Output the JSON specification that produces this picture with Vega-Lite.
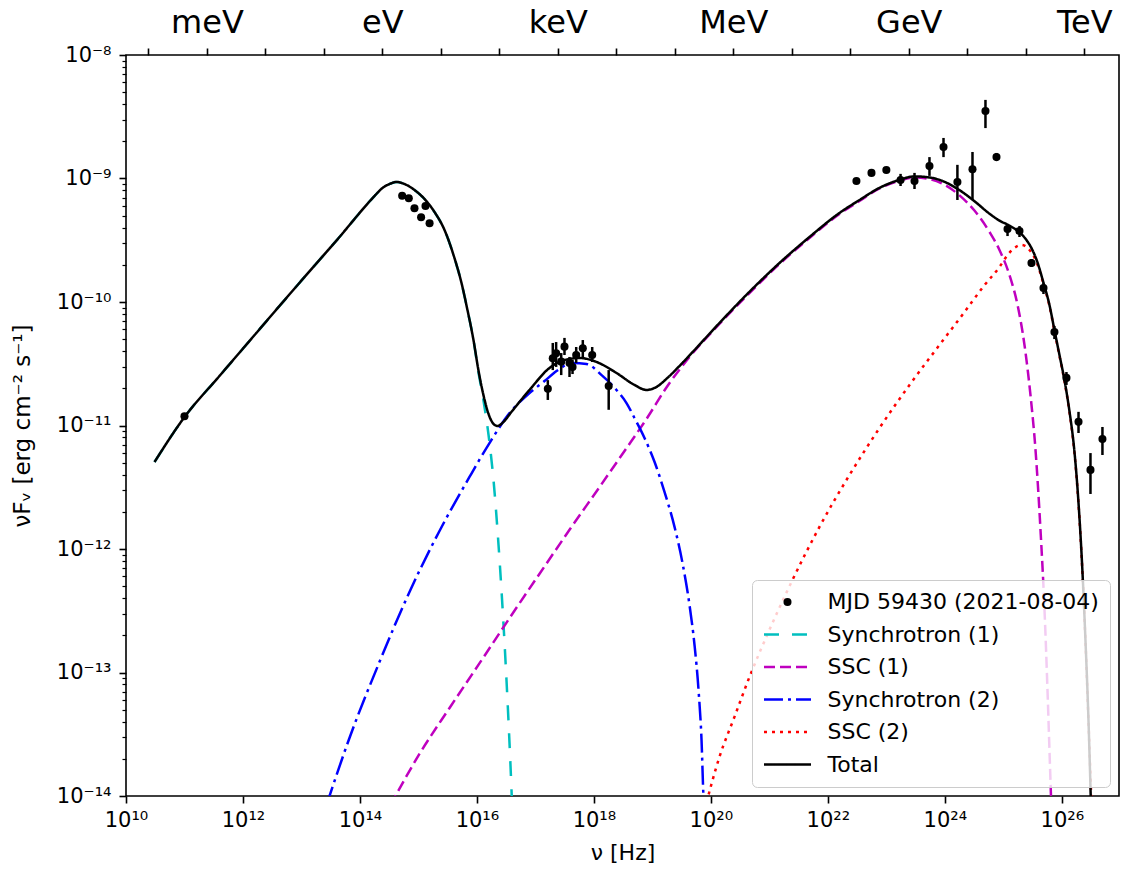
{
  "$schema": "https://vega.github.io/schema/vega-lite/v6.json",
  "width": 993,
  "height": 741,
  "autosize": {"type": "none"},
  "padding": {"left": 126, "top": 55, "right": 11, "bottom": 73},
  "background": "white",
  "config": {
    "view": {"stroke": "black", "strokeWidth": 1.6},
    "font": "DejaVu Sans",
    "axis": {"domain": false, "grid": false, "tickColor": "black", "labelColor": "black", "titleColor": "black", "labelFont": "DejaVu Sans", "titleFont": "DejaVu Sans", "labelFontSize": 21, "titleFontSize": 22, "titleFontWeight": "normal", "tickWidth": 1.6, "labelOverlap": false, "labelFlush": false, "labelBound": false}
  },
  "datasets": {
    "curves": [
      {"s":"Synchrotron (1)","nu":3.07e10,"F":5.06e-12},{"s":"Synchrotron (1)","nu":1.00e11,"F":1.17e-11},{"s":"Synchrotron (1)","nu":3.97e11,"F":2.52e-11},{"s":"Synchrotron (1)","nu":1.29e12,"F":4.83e-11},{"s":"Synchrotron (1)","nu":4.21e12,"F":9.29e-11},{"s":"Synchrotron (1)","nu":9.25e12,"F":1.43e-10},{"s":"Synchrotron (1)","nu":2.03e13,"F":2.19e-10},{"s":"Synchrotron (1)","nu":4.47e13,"F":3.36e-10},{"s":"Synchrotron (1)","nu":8.07e13,"F":4.70e-10},{"s":"Synchrotron (1)","nu":1.20e14,"F":5.87e-10},{"s":"Synchrotron (1)","nu":1.77e14,"F":7.21e-10},{"s":"Synchrotron (1)","nu":2.43e14,"F":8.38e-10},{"s":"Synchrotron (1)","nu":3.20e14,"F":9.02e-10},{"s":"Synchrotron (1)","nu":4.22e14,"F":9.37e-10},{"s":"Synchrotron (1)","nu":5.78e14,"F":9.02e-10},{"s":"Synchrotron (1)","nu":8.57e14,"F":8.07e-10},{"s":"Synchrotron (1)","nu":1.27e15,"F":6.82e-10},{"s":"Synchrotron (1)","nu":1.88e15,"F":5.36e-10},{"s":"Synchrotron (1)","nu":2.79e15,"F":3.83e-10},{"s":"Synchrotron (1)","nu":4.13e15,"F":2.27e-10},{"s":"Synchrotron (1)","nu":5.44e15,"F":1.43e-10},{"s":"Synchrotron (1)","nu":6.89e15,"F":8.61e-11},{"s":"Synchrotron (1)","nu":8.73e15,"F":4.92e-11},{"s":"Synchrotron (1)","nu":1.06e16,"F":2.71e-11},{"s":"Synchrotron (1)","nu":1.29e16,"F":1.61e-11},{"s":"Synchrotron (1)","nu":1.58e16,"F":8.38e-12},{"s":"Synchrotron (1)","nu":1.92e16,"F":3.62e-12},{"s":"Synchrotron (1)","nu":2.34e16,"F":1.08e-12},{"s":"Synchrotron (1)","nu":2.85e16,"F":2.43e-13},{"s":"Synchrotron (1)","nu":3.33e16,"F":5.98e-14},{"s":"Synchrotron (1)","nu":3.90e16,"F":1.12e-14},{"s":"Synchrotron (1)","nu":4.05e16,"F":7.0e-15},
      {"s":"SSC (1)","nu":3.33e14,"F":8.45e-15},{"s":"SSC (1)","nu":1.04e15,"F":2.19e-14},{"s":"SSC (1)","nu":3.40e15,"F":5.16e-14},{"s":"SSC (1)","nu":1.11e16,"F":1.19e-13},{"s":"SSC (1)","nu":3.61e16,"F":2.76e-13},{"s":"SSC (1)","nu":1.17e17,"F":6.28e-13},{"s":"SSC (1)","nu":3.83e17,"F":1.43e-12},{"s":"SSC (1)","nu":1.25e18,"F":3.18e-12},{"s":"SSC (1)","nu":3.34e18,"F":6.22e-12},{"s":"SSC (1)","nu":7.93e18,"F":1.13e-11},{"s":"SSC (1)","nu":1.81e19,"F":2.09e-11},{"s":"SSC (1)","nu":4.31e19,"F":3.59e-11},{"s":"SSC (1)","nu":1.40e20,"F":6.64e-11},{"s":"SSC (1)","nu":4.57e20,"F":1.18e-10},{"s":"SSC (1)","nu":1.49e21,"F":2.03e-10},{"s":"SSC (1)","nu":4.85e21,"F":3.30e-10},{"s":"SSC (1)","nu":1.58e22,"F":5.16e-10},{"s":"SSC (1)","nu":3.48e22,"F":6.58e-10},{"s":"SSC (1)","nu":7.64e22,"F":8.3e-10},{"s":"SSC (1)","nu":1.68e23,"F":9.6e-10},{"s":"SSC (1)","nu":3.03e23,"F":1.02e-9},{"s":"SSC (1)","nu":5.46e23,"F":9.9e-10},{"s":"SSC (1)","nu":9.86e23,"F":8.9e-10},{"s":"SSC (1)","nu":1.78e24,"F":7.3e-10},{"s":"SSC (1)","nu":3.21e24,"F":5.5e-10},{"s":"SSC (1)","nu":5.80e24,"F":3.69e-10},{"s":"SSC (1)","nu":8.59e24,"F":2.64e-10},{"s":"SSC (1)","nu":1.27e25,"F":1.66e-10},{"s":"SSC (1)","nu":1.75e25,"F":9.46e-11},{"s":"SSC (1)","nu":2.30e25,"F":4.49e-11},{"s":"SSC (1)","nu":2.91e25,"F":1.77e-11},{"s":"SSC (1)","nu":3.55e25,"F":6.34e-12},{"s":"SSC (1)","nu":4.32e25,"F":1.43e-12},{"s":"SSC (1)","nu":5.06e25,"F":3.21e-13},{"s":"SSC (1)","nu":5.69e25,"F":7.21e-14},{"s":"SSC (1)","nu":6.15e25,"F":2.36e-14},{"s":"SSC (1)","nu":6.65e25,"F":7.7e-15},
      {"s":"Synchrotron (2)","nu":2.68e13,"F":8.45e-15},{"s":"Synchrotron (2)","nu":6.62e13,"F":2.95e-14},{"s":"Synchrotron (2)","nu":2.16e14,"F":1.22e-13},{"s":"Synchrotron (2)","nu":7.03e14,"F":4.49e-13},{"s":"Synchrotron (2)","nu":2.29e15,"F":1.40e-12},{"s":"Synchrotron (2)","nu":7.46e15,"F":3.83e-12},{"s":"Synchrotron (2)","nu":1.64e16,"F":7.21e-12},{"s":"Synchrotron (2)","nu":3.61e16,"F":1.26e-11},{"s":"Synchrotron (2)","nu":7.92e16,"F":1.83e-11},{"s":"Synchrotron (2)","nu":1.43e17,"F":2.29e-11},{"s":"Synchrotron (2)","nu":2.30e17,"F":2.76e-11},{"s":"Synchrotron (2)","nu":4.31e17,"F":3.21e-11},{"s":"Synchrotron (2)","nu":7.47e17,"F":3.15e-11},{"s":"Synchrotron (2)","nu":1.40e18,"F":2.52e-11},{"s":"Synchrotron (2)","nu":2.43e18,"F":1.94e-11},{"s":"Synchrotron (2)","nu":3.61e18,"F":1.52e-11},{"s":"Synchrotron (2)","nu":4.94e18,"F":1.15e-11},{"s":"Synchrotron (2)","nu":7.33e18,"F":7.93e-12},{"s":"Synchrotron (2)","nu":1.09e19,"F":5.06e-12},{"s":"Synchrotron (2)","nu":1.61e19,"F":2.90e-12},{"s":"Synchrotron (2)","nu":2.39e19,"F":1.51e-12},{"s":"Synchrotron (2)","nu":3.27e19,"F":7.71e-13},{"s":"Synchrotron (2)","nu":4.31e19,"F":3.52e-13},{"s":"Synchrotron (2)","nu":5.25e19,"F":1.67e-13},{"s":"Synchrotron (2)","nu":6.15e19,"F":7.21e-14},{"s":"Synchrotron (2)","nu":6.92e19,"F":2.84e-14},{"s":"Synchrotron (2)","nu":7.48e19,"F":9.8e-15},{"s":"Synchrotron (2)","nu":7.78e19,"F":7.7e-15},
      {"s":"SSC (2)","nu":7.78e19,"F":7.7e-15},{"s":"SSC (2)","nu":1.40e20,"F":2.07e-14},{"s":"SSC (2)","nu":2.53e20,"F":4.37e-14},{"s":"SSC (2)","nu":4.57e20,"F":9.20e-14},{"s":"SSC (2)","nu":1.00e21,"F":2.21e-13},{"s":"SSC (2)","nu":2.48e21,"F":5.61e-13},{"s":"SSC (2)","nu":7.19e21,"F":1.51e-12},{"s":"SSC (2)","nu":2.34e22,"F":3.97e-12},{"s":"SSC (2)","nu":7.64e22,"F":9.55e-12},{"s":"SSC (2)","nu":2.49e23,"F":2.13e-11},{"s":"SSC (2)","nu":8.11e23,"F":4.49e-11},{"s":"SSC (2)","nu":2.17e24,"F":8.30e-11},{"s":"SSC (2)","nu":4.77e24,"F":1.37e-10},{"s":"SSC (2)","nu":8.59e24,"F":1.92e-10},{"s":"SSC (2)","nu":1.18e25,"F":2.40e-10},{"s":"SSC (2)","nu":1.55e25,"F":2.74e-10},{"s":"SSC (2)","nu":2.05e25,"F":2.90e-10},{"s":"SSC (2)","nu":2.80e25,"F":2.64e-10},{"s":"SSC (2)","nu":3.69e25,"F":2.11e-10},{"s":"SSC (2)","nu":4.86e25,"F":1.40e-10},{"s":"SSC (2)","nu":6.15e25,"F":9.29e-11},{"s":"SSC (2)","nu":7.48e25,"F":5.82e-11},{"s":"SSC (2)","nu":9.12e25,"F":3.66e-11},{"s":"SSC (2)","nu":1.11e26,"F":2.29e-11},{"s":"SSC (2)","nu":1.35e26,"F":1.29e-11},{"s":"SSC (2)","nu":1.64e26,"F":6.10e-12},{"s":"SSC (2)","nu":1.92e26,"F":2.40e-12},{"s":"SSC (2)","nu":2.25e26,"F":6.52e-13},{"s":"SSC (2)","nu":2.54e26,"F":1.77e-13},{"s":"SSC (2)","nu":2.86e26,"F":3.97e-14},{"s":"SSC (2)","nu":3.22e26,"F":8.45e-15},
      {"s":"Total","nu":3.07e10,"F":5.06e-12},{"s":"Total","nu":1.00e11,"F":1.17e-11},{"s":"Total","nu":3.97e11,"F":2.52e-11},{"s":"Total","nu":1.29e12,"F":4.83e-11},{"s":"Total","nu":4.21e12,"F":9.29e-11},{"s":"Total","nu":9.25e12,"F":1.43e-10},{"s":"Total","nu":2.03e13,"F":2.19e-10},{"s":"Total","nu":4.47e13,"F":3.36e-10},{"s":"Total","nu":8.07e13,"F":4.70e-10},{"s":"Total","nu":1.20e14,"F":5.87e-10},{"s":"Total","nu":1.77e14,"F":7.21e-10},{"s":"Total","nu":2.43e14,"F":8.38e-10},{"s":"Total","nu":3.20e14,"F":9.02e-10},{"s":"Total","nu":4.22e14,"F":9.37e-10},{"s":"Total","nu":5.78e14,"F":9.02e-10},{"s":"Total","nu":8.57e14,"F":8.07e-10},{"s":"Total","nu":1.27e15,"F":6.82e-10},{"s":"Total","nu":1.88e15,"F":5.36e-10},{"s":"Total","nu":2.79e15,"F":3.83e-10},{"s":"Total","nu":4.13e15,"F":2.27e-10},{"s":"Total","nu":5.44e15,"F":1.43e-10},{"s":"Total","nu":6.89e15,"F":8.61e-11},{"s":"Total","nu":8.73e15,"F":4.92e-11},{"s":"Total","nu":1.06e16,"F":2.81e-11},{"s":"Total","nu":1.29e16,"F":1.77e-11},{"s":"Total","nu":1.58e16,"F":1.24e-11},{"s":"Total","nu":1.92e16,"F":1.03e-11},{"s":"Total","nu":2.25e16,"F":9.91e-12},{"s":"Total","nu":2.85e16,"F":1.07e-11},{"s":"Total","nu":3.90e16,"F":1.29e-11},{"s":"Total","nu":7.92e16,"F":1.94e-11},{"s":"Total","nu":1.74e17,"F":2.92e-11},{"s":"Total","nu":3.14e17,"F":3.39e-11},{"s":"Total","nu":5.68e17,"F":3.52e-11},{"s":"Total","nu":1.11e18,"F":3.27e-11},{"s":"Total","nu":2.44e18,"F":2.66e-11},{"s":"Total","nu":4.94e18,"F":2.13e-11},{"s":"Total","nu":7.93e18,"F":1.94e-11},{"s":"Total","nu":1.17e19,"F":2.05e-11},{"s":"Total","nu":1.81e19,"F":2.43e-11},{"s":"Total","nu":2.90e19,"F":3.03e-11},{"s":"Total","nu":5.24e19,"F":4.08e-11},{"s":"Total","nu":1.40e20,"F":6.76e-11},{"s":"Total","nu":4.57e20,"F":1.21e-10},{"s":"Total","nu":1.49e21,"F":2.07e-10},{"s":"Total","nu":4.85e21,"F":3.36e-10},{"s":"Total","nu":1.58e22,"F":5.26e-10},{"s":"Total","nu":3.48e22,"F":6.70e-10},{"s":"Total","nu":7.64e22,"F":8.4e-10},{"s":"Total","nu":1.68e23,"F":9.75e-10},{"s":"Total","nu":3.03e23,"F":1.04e-9},{"s":"Total","nu":5.46e23,"F":1.02e-9},{"s":"Total","nu":9.86e23,"F":9.4e-10},{"s":"Total","nu":1.78e24,"F":8.05e-10},{"s":"Total","nu":3.21e24,"F":6.55e-10},{"s":"Total","nu":5.80e24,"F":5.19e-10},{"s":"Total","nu":8.59e24,"F":4.56e-10},{"s":"Total","nu":1.27e25,"F":4.16e-10},{"s":"Total","nu":1.75e25,"F":3.77e-10},{"s":"Total","nu":2.30e25,"F":3.33e-10},{"s":"Total","nu":3.03e25,"F":2.73e-10},{"s":"Total","nu":3.84e25,"F":2.09e-10},{"s":"Total","nu":4.86e25,"F":1.43e-10},{"s":"Total","nu":6.15e25,"F":9.46e-11},{"s":"Total","nu":7.48e25,"F":5.93e-11},{"s":"Total","nu":9.12e25,"F":3.72e-11},{"s":"Total","nu":1.11e26,"F":2.33e-11},{"s":"Total","nu":1.35e26,"F":1.31e-11},{"s":"Total","nu":1.64e26,"F":6.22e-12},{"s":"Total","nu":1.92e26,"F":2.45e-12},{"s":"Total","nu":2.25e26,"F":6.64e-13},{"s":"Total","nu":2.54e26,"F":1.80e-13},{"s":"Total","nu":2.86e26,"F":4.05e-14},{"s":"Total","nu":3.15e26,"F":8.5e-15}
    ],
    "pts": [
      {"nu":1.00e11,"F":1.19e-11,"lo":1.19e-11,"hi":1.19e-11},
      {"nu":5.27e14,"F":7.26e-10,"lo":7.26e-10,"hi":7.26e-10},
      {"nu":6.84e14,"F":6.92e-10,"lo":6.92e-10,"hi":6.92e-10},
      {"nu":8.55e14,"F":5.74e-10,"lo":5.74e-10,"hi":5.74e-10},
      {"nu":1.32e15,"F":5.98e-10,"lo":5.98e-10,"hi":5.98e-10},
      {"nu":1.11e15,"F":4.85e-10,"lo":4.85e-10,"hi":4.85e-10},
      {"nu":1.55e15,"F":4.34e-10,"lo":4.34e-10,"hi":4.34e-10},
      {"nu":1.63e17,"F":1.98e-11,"lo":1.61e-11,"hi":2.33e-11},
      {"nu":1.98e17,"F":3.50e-11,"lo":2.81e-11,"hi":4.66e-11},
      {"nu":2.26e17,"F":3.84e-11,"lo":2.98e-11,"hi":4.74e-11},
      {"nu":3.14e17,"F":4.35e-11,"lo":3.72e-11,"hi":5.12e-11},
      {"nu":2.76e17,"F":3.29e-11,"lo":2.56e-11,"hi":3.86e-11},
      {"nu":3.83e17,"F":3.21e-11,"lo":2.47e-11,"hi":3.59e-11},
      {"nu":4.31e17,"F":2.98e-11,"lo":2.61e-11,"hi":3.39e-11},
      {"nu":4.98e17,"F":3.72e-11,"lo":3.21e-11,"hi":4.32e-11},
      {"nu":6.46e17,"F":4.22e-11,"lo":3.52e-11,"hi":4.92e-11},
      {"nu":9.35e17,"F":3.72e-11,"lo":3.27e-11,"hi":4.32e-11},
      {"nu":1.79e18,"F":2.09e-11,"lo":1.34e-11,"hi":2.81e-11},
      {"nu":3.08e22,"F":9.55e-10,"lo":9.1e-10,"hi":1.0e-9},
      {"nu":5.57e22,"F":1.11e-9,"lo":1.05e-9,"hi":1.17e-9},
      {"nu":1.00e23,"F":1.17e-9,"lo":1.12e-9,"hi":1.22e-9},
      {"nu":1.75e23,"F":9.73e-10,"lo":8.69e-10,"hi":1.09e-9},
      {"nu":3.03e23,"F":9.55e-10,"lo":8.22e-10,"hi":1.11e-9},
      {"nu":5.46e23,"F":1.26e-9,"lo":1.05e-9,"hi":1.49e-9},
      {"nu":9.49e23,"F":1.80e-9,"lo":1.49e-9,"hi":2.13e-9},
      {"nu":1.64e24,"F":9.37e-10,"lo":6.70e-10,"hi":1.29e-9},
      {"nu":2.97e24,"F":1.19e-9,"lo":6.70e-10,"hi":1.64e-9},
      {"nu":4.95e24,"F":3.52e-9,"lo":2.56e-9,"hi":4.33e-9},
      {"nu":7.64e24,"F":1.49e-9,"lo":1.39e-9,"hi":1.61e-9},
      {"nu":1.18e25,"F":3.90e-10,"lo":3.42e-10,"hi":4.28e-10},
      {"nu":1.89e25,"F":3.76e-10,"lo":3.36e-10,"hi":4.12e-10},
      {"nu":3.03e25,"F":2.07e-10,"lo":1.92e-10,"hi":2.23e-10},
      {"nu":4.86e25,"F":1.30e-10,"lo":1.16e-10,"hi":1.43e-10},
      {"nu":7.48e25,"F":5.71e-11,"lo":5.01e-11,"hi":6.40e-11},
      {"nu":1.20e26,"F":2.43e-11,"lo":2.13e-11,"hi":2.71e-11},
      {"nu":1.93e26,"F":1.07e-11,"lo":8.69e-12,"hi":1.29e-11},
      {"nu":3.09e26,"F":4.37e-12,"lo":2.79e-12,"hi":5.98e-12},
      {"nu":4.95e26,"F":7.78e-12,"lo":5.77e-12,"hi":9.73e-12}
    ]
  },
  "resolve": {"axis": {"x": "independent"}},
  "layer": [
    {
      "data": {"name": "curves"},
      "mark": {"type": "line", "clip": true, "strokeWidth": 2.5, "interpolate": "monotone"},
      "encoding": {
        "x": {"field": "nu", "type": "quantitative", "scale": {"type": "log", "domain": [1e10, 9.5e26], "nice": false},
          "axis": {"orient": "bottom", "values": [1e10, 1e12, 1e14, 1e16, 1e18, 1e20, 1e22, 1e24, 1e26],
            "labelExpr": "'10' + ['¹⁰','¹²','¹⁴','¹⁶','¹⁸','²⁰','²²','²⁴','²⁶'][(round(log(datum.value)/LN10)-10)/2]",
            "tickSize": 7, "labelPadding": 6, "title": "ν [Hz]", "titlePadding": 12}},
        "y": {"field": "F", "type": "quantitative", "scale": {"type": "log", "domain": [1e-14, 1e-8], "nice": false},
          "axis": {"title": "νFᵥ  [erg cm⁻² s⁻¹]", "titleFontSize": 23,
            "values": [1e-14,2e-14,3e-14,4e-14,5e-14,6e-14,7e-14,8e-14,9e-14,1e-13,2e-13,3e-13,4e-13,5e-13,6e-13,7e-13,8e-13,9e-13,1e-12,2e-12,3e-12,4e-12,5e-12,6e-12,7e-12,8e-12,9e-12,1e-11,2e-11,3e-11,4e-11,5e-11,6e-11,7e-11,8e-11,9e-11,1e-10,2e-10,3e-10,4e-10,5e-10,6e-10,7e-10,8e-10,9e-10,1e-9,2e-9,3e-9,4e-9,5e-9,6e-9,7e-9,8e-9,9e-9,1e-8],
            "labelExpr": "abs(log(datum.value)/LN10 - round(log(datum.value)/LN10)) < 0.01 ? '10' + ['⁻⁸','⁻⁹','⁻¹⁰','⁻¹¹','⁻¹²','⁻¹³','⁻¹⁴'][-8 - round(log(datum.value)/LN10)] : ''",
            "tickSize": {"condition": {"test": "abs(log(datum.value)/LN10 - round(log(datum.value)/LN10)) < 0.01", "value": 7}, "value": 4},
            "tickWidth": {"condition": {"test": "abs(log(datum.value)/LN10 - round(log(datum.value)/LN10)) < 0.01", "value": 1.6}, "value": 1.2},
            "labelPadding": 8, "titlePadding": 22}},
        "color": {"field": "s", "type": "nominal",
          "scale": {"domain": ["MJD 59430 (2021-08-04)", "Synchrotron (1)", "SSC (1)", "Synchrotron (2)", "SSC (2)", "Total"],
                    "range": ["#000000", "#00bfbf", "#bf00bf", "#0000ff", "#ff0000", "#000000"]},
          "legend": {"title": null, "orient": "bottom-right", "offset": 9, "padding": 11,
            "fillColor": "rgba(255,255,255,0.8)", "strokeColor": "#cccccc", "cornerRadius": 5,
            "labelFont": "DejaVu Sans", "labelFontSize": 22, "labelColor": "black", "labelLimit": 400,
            "symbolType": "M-2.35,0H2.35", "symbolSize": 400, "symbolStrokeWidth": 2.5, "symbolOffset": 13.5,
            "labelOffset": 29, "rowPadding": 10.5,
            "encode": {"symbols": {"update": {
              "shape": {"signal": "datum.value === 'MJD 59430 (2021-08-04)' ? 'circle' : 'M-2.35,0H2.35'"},
              "size": {"signal": "datum.value === 'MJD 59430 (2021-08-04)' ? 65 : 400"},
              "fill": {"signal": "datum.value === 'MJD 59430 (2021-08-04)' ? 'black' : 'transparent'"},
              "strokeWidth": {"signal": "datum.value === 'MJD 59430 (2021-08-04)' ? 0 : 2.5"},
              "opacity": {"value": 1}
            }}}}},
        "strokeDash": {"field": "s", "type": "nominal",
          "scale": {"domain": ["MJD 59430 (2021-08-04)", "Synchrotron (1)", "SSC (1)", "Synchrotron (2)", "SSC (2)", "Total"],
                    "range": [[1, 0], [15, 13], [11, 5], [19, 5, 3, 5], [3, 5], [1, 0]]}}
      }
    },
    {
      "data": {"name": "pts"},
      "mark": {"type": "rule", "strokeWidth": 2.5, "color": "black", "strokeCap": "butt"},
      "encoding": {
        "x": {"field": "nu", "type": "quantitative", "scale": {"type": "log", "domain": [1e10, 9.5e26], "nice": false},
          "axis": {"orient": "top", "title": null,
            "values": [2.418e10, 2.418e11, 2.418e12, 2.418e13, 2.418e14, 2.418e15, 2.418e16, 2.418e17, 2.418e18, 2.418e19, 2.418e20, 2.418e21, 2.418e22, 2.418e23, 2.418e24, 2.418e25, 2.418e26],
            "labelExpr": "['','meV','','','eV','','','keV','','','MeV','','','GeV','','','TeV'][round(log(datum.value/2.418e10)/LN10)]",
            "tickSize": 7, "labelFontSize": 32, "labelPadding": 9}},
        "y": {"field": "lo", "type": "quantitative", "scale": {"type": "log", "domain": [1e-14, 1e-8], "nice": false}},
        "y2": {"field": "hi"}
      }
    },
    {
      "data": {"name": "pts"},
      "mark": {"type": "point", "filled": true, "shape": "circle", "size": 65, "color": "black", "opacity": 1},
      "encoding": {
        "x": {"field": "nu", "type": "quantitative", "scale": {"type": "log", "domain": [1e10, 9.5e26], "nice": false}, "axis": null},
        "y": {"field": "F", "type": "quantitative", "scale": {"type": "log", "domain": [1e-14, 1e-8], "nice": false}}
      }
    }
  ]
}
